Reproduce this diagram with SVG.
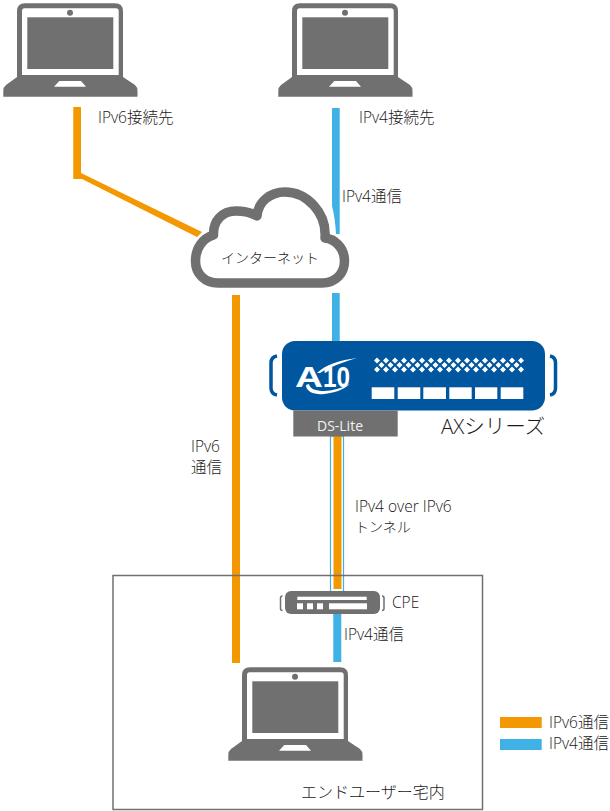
<svg xmlns="http://www.w3.org/2000/svg" xmlns:xlink="http://www.w3.org/1999/xlink" width="610" height="811" viewBox="0 0 610 811">
<style>
text{font-family:"Open Sans","Noto Sans CJK JP",sans-serif;font-size:15.500px;font-weight:300;fill:#1a1718}
.g{fill:#717071}
.o{fill:#f39800}
.b{fill:#3fb1e5}
.w{fill:#fff}
</style>
<defs>
<g id="laptop">
<path class="g" d="M25 3.300H115Q123 3.300 123 11.300V77L135 85Q137.500 87 137.500 91V96.700H3.300V91Q3.300 87 6 85L17 77V11.300Q17 3.300 25 3.300Z"/>
<path class="w" d="M24.500 8.300H116Q118.700 8.300 118.700 11V75H22V11Q22 8.300 24.500 8.300Z"/>
<rect class="g" x="27.300" y="17.300" width="86" height="51.700"/>
<circle class="g" cx="70" cy="12.700" r="3"/>
<path class="w" d="M59.300 81H81L86 86.700H54Z"/>
</g>
</defs>
<g id="connectors">
<path class="o" d="M73.300 107H81V173L202 232L197 237L82 179H73.300Z"/>
<path class="b" d="M332 108H339.700V234H336Q335 217 332 206Z"/>
<rect class="b" x="332" y="293" width="7.700" height="50"/>
<rect class="o" x="232" y="295" width="8" height="368"/>
<rect x="330.500" y="436" width="13" height="156" fill="#fff" stroke="#3fb1e5" stroke-width="1.200"/>
<rect class="o" x="333.500" y="436" width="8" height="153"/>
<rect class="b" x="333.300" y="614" width="8" height="48"/>
</g>
<g id="site"><rect x="113" y="575.500" width="369.500" height="234" fill="none" stroke="#717071" stroke-width="1.500"/></g>
<g id="laptop-ipv6"><use xlink:href="#laptop" href="#laptop"/></g>
<g id="laptop-ipv4"><use xlink:href="#laptop" href="#laptop" x="275"/></g>
<g id="laptop-user"><use xlink:href="#laptop" href="#laptop" x="225" y="664"/></g>
<g id="cloud">
<path d="M218 283H322C336 283 344.500 273 344.500 261C344.500 248 335 239 325 238C327 212 306 192 285 192C270 192 258 202 257 216C250 212 243 211 236 211C222 211 213 221 213.500 235C203 238 195.500 248 195.500 261C195.500 274 205 283 218 283Z" fill="#fff" stroke="#717071" stroke-width="9.500" stroke-linejoin="round"/>
<text x="270" y="263" text-anchor="middle" style="font-size:14px">インターネット</text>
</g>
<g id="ax">
<rect x="282" y="341" width="263" height="69.500" rx="13" fill="#00569f"/>
<path d="M277 356Q271 357 271 363V388Q271 394 277 395" fill="none" stroke="#00569f" stroke-width="3.500"/>
<path d="M550 356Q555.500 357 555.500 363V388Q555.500 394 550 395" fill="none" stroke="#00569f" stroke-width="3.500"/>
<path d="M357 358C340 360 325 365 317 373L320 373C330 367 343 362 357 358ZM306 385C306 392 315 395 324 394C334 393 343 390 350 384C342 388 332 391 324 391C316 391 310 389 309 384Z" fill="#fff"/>
<text x="295" y="387" style="fill:#fff;font-family:'Liberation Sans',sans-serif;font-size:30px;font-weight:bold" textLength="28" lengthAdjust="spacingAndGlyphs">A</text>
<text x="323" y="387" style="fill:#fff;font-family:'Liberation Sans',sans-serif;font-size:30px;font-weight:bold" textLength="27" lengthAdjust="spacingAndGlyphs">10</text>
<g fill="#fff">
<path id="dots" d="M374 360.500l3-3 3 3-3 3zM383 360.500l3-3 3 3-3 3zM392 360.500l3-3 3 3-3 3zM401 360.500l3-3 3 3-3 3zM410 360.500l3-3 3 3-3 3zM419 360.500l3-3 3 3-3 3zM428 360.500l3-3 3 3-3 3zM437 360.500l3-3 3 3-3 3zM446 360.500l3-3 3 3-3 3zM455 360.500l3-3 3 3-3 3zM464 360.500l3-3 3 3-3 3zM473 360.500l3-3 3 3-3 3zM482 360.500l3-3 3 3-3 3zM491 360.500l3-3 3 3-3 3zM500 360.500l3-3 3 3-3 3zM509 360.500l3-3 3 3-3 3z"/>
<path d="M518 360.500l3-3 3 3-3 3zM518 369.500l3-3 3 3-3 3z"/>
<use xlink:href="#dots" href="#dots" x="0" y="9"/>
<use xlink:href="#dots" href="#dots" x="4.500" y="4.500"/>
<rect x="371.700" y="387.300" width="22.600" height="11.700"/><rect x="397.700" y="387.300" width="22.600" height="11.700"/><rect x="423.300" y="387.300" width="22.700" height="11.700"/><rect x="449.300" y="387.300" width="22.400" height="11.700"/><rect x="475" y="387.300" width="22.300" height="11.700"/><rect x="500.700" y="387.300" width="22.600" height="11.700"/>
</g>
<rect class="g" x="293.300" y="410.500" width="104.400" height="26"/>
<text x="340" y="431" text-anchor="middle" style="fill:#f2f2f2;font-size:14px;font-weight:400">DS-Lite</text>
</g>
<g id="cpe">
<rect class="g" x="285" y="591" width="95" height="23" rx="6"/>
<path d="M282.500 596Q280.500 596 280.500 598V608.500Q280.500 610.500 282.500 610.500M382 596Q384 596 384 598V608.500Q384 610.500 382 610.500" fill="none" stroke="#717071" stroke-width="1.500"/>
<g fill="#fff"><rect x="297.300" y="596.700" width="69.400" height="3.300"/><rect x="297" y="603.300" width="6" height="6"/><rect x="307" y="603.300" width="6" height="6"/><rect x="317" y="603.300" width="6" height="6"/><rect x="329" y="603.300" width="38" height="6"/></g>
</g>
<g id="labels">
<text x="98" y="123">IPv6接続先</text>
<text x="359" y="123">IPv4接続先</text>
<text x="342" y="202">IPv4通信</text>
<text x="191" y="452">IPv6</text>
<text x="191" y="473">通信</text>
<text x="355" y="512">IPv4 over IPv6</text>
<text x="355" y="532" style="font-size:14px">トンネル</text>
<text x="392" y="608">CPE</text>
<text x="344" y="640">IPv4通信</text>
<text x="441" y="434" style="font-size:20.500px">AXシリーズ</text>
<text x="301" y="798" style="font-size:16px">エンドユーザー宅内</text>
</g>
<g id="legend">
<rect class="o" x="500" y="717" width="41.700" height="11"/>
<rect class="b" x="500" y="739" width="41.700" height="11"/>
<text x="549" y="728">IPv6通信</text>
<text x="549" y="749">IPv4通信</text>
</g>
</svg>
